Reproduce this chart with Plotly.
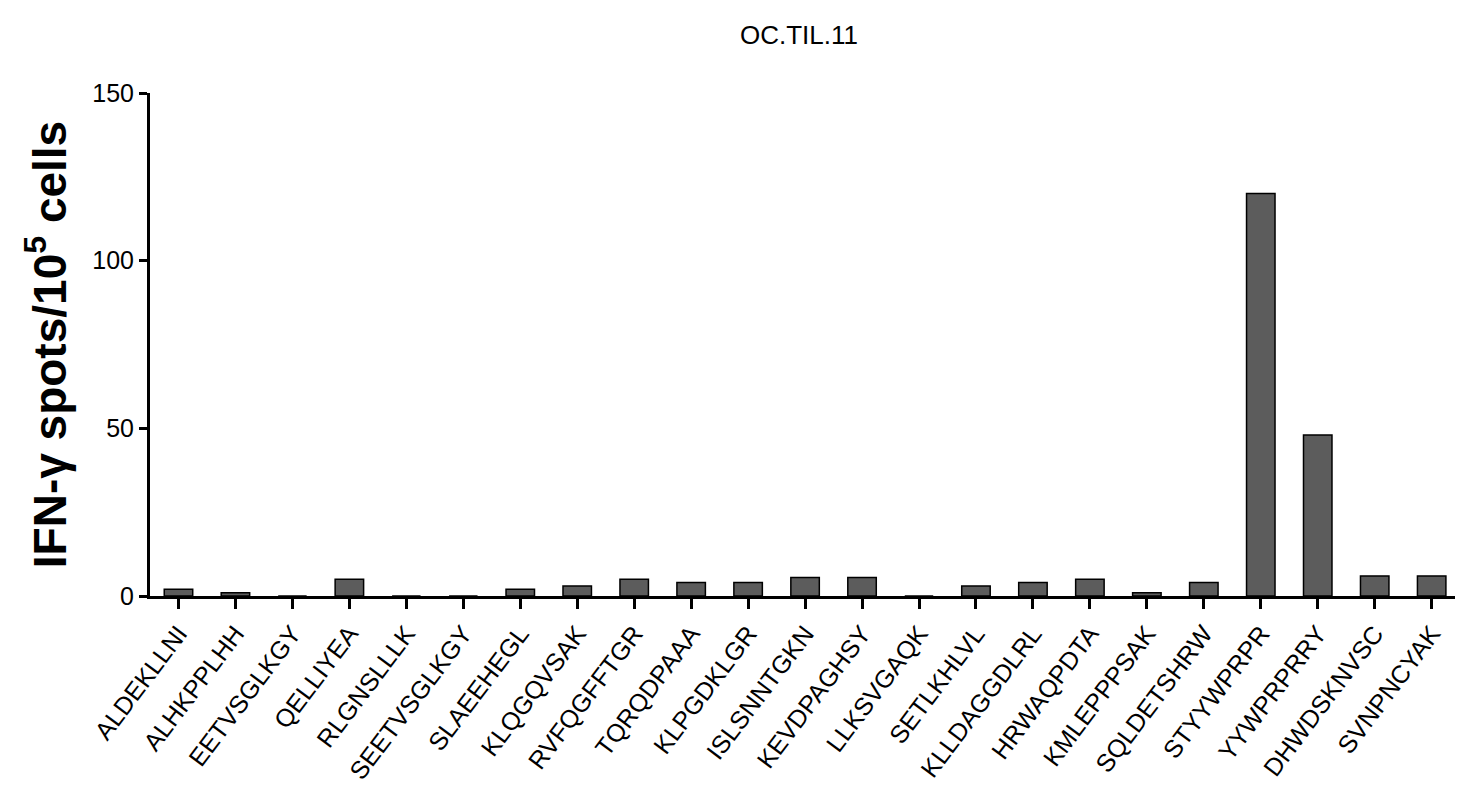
import plotly.graph_objects as go

peptides = ["ALDEKLLNI", "ALHKPPLHH", "EETVSGLKGY", "QELLIYEA", "RLGNSLLLK",
            "SEETVSGLKGY", "SLAEEHEGL", "KLQGQVSAK", "RVFQGFFTGR", "TQRQDPAAA",
            "KLPGDKLGR", "ISLSNNTGKN", "KEVDPAGHSY", "LLKSVGAQK", "SETLKHLVL",
            "KLLDAGGDLRL", "HRWAQPDTA", "KMLEPPPSAK", "SQLDETSHRW", "STYYWPRPR",
            "YYWPRPRRY", "DHWDSKNVSC", "SVNPNCYAK"]
spots = [2, 1, 0, 5, 0, 0, 2, 3, 5, 4, 4, 5.5, 5.5, 0, 3, 4, 5, 1, 4, 120, 48, 6, 6]
y_ticks = [0, 50, 100, 150]

fig = go.Figure()
fig.add_trace(go.Bar(
    x=peptides, y=spots,
    marker=dict(color="#5c5c5c", line=dict(color="black", width=1.5)),
    width=0.5,
))

font_family = "Liberation Sans, Arial, sans-serif"
fig.update_layout(
    width=1455, height=794,
    margin=dict(l=142, r=0, t=85, b=206),
    plot_bgcolor="white", paper_bgcolor="white",
    showlegend=False,
    title=dict(text="OC.TIL.11", x=0.5436, xanchor="center", y=0.966, yanchor="middle",
               font=dict(family=font_family, size=26, color="black")),
    xaxis=dict(
        range=[-0.5, 22.55],
        showline=True, linecolor="black", linewidth=3,
        ticks="outside", ticklen=10, tickwidth=3, tickcolor="black",
        tickangle=-53,
        tickfont=dict(family=font_family, size=25, color="black"),
        showgrid=False, zeroline=False,
    ),
    yaxis=dict(
        range=[0, 150],
        tickvals=y_ticks,
        showline=True, linecolor="black", linewidth=3,
        ticks="outside", ticklen=8, tickwidth=2.5, tickcolor="black",
        tickfont=dict(family=font_family, size=25, color="black"),
        showgrid=False, zeroline=False,
        title=dict(text="<b>IFN-γ spots/10<sup>5</sup> cells</b>", standoff=12,
                   font=dict(family=font_family, size=46, color="black")),
    ),
)

fig.write_html("out.html")
